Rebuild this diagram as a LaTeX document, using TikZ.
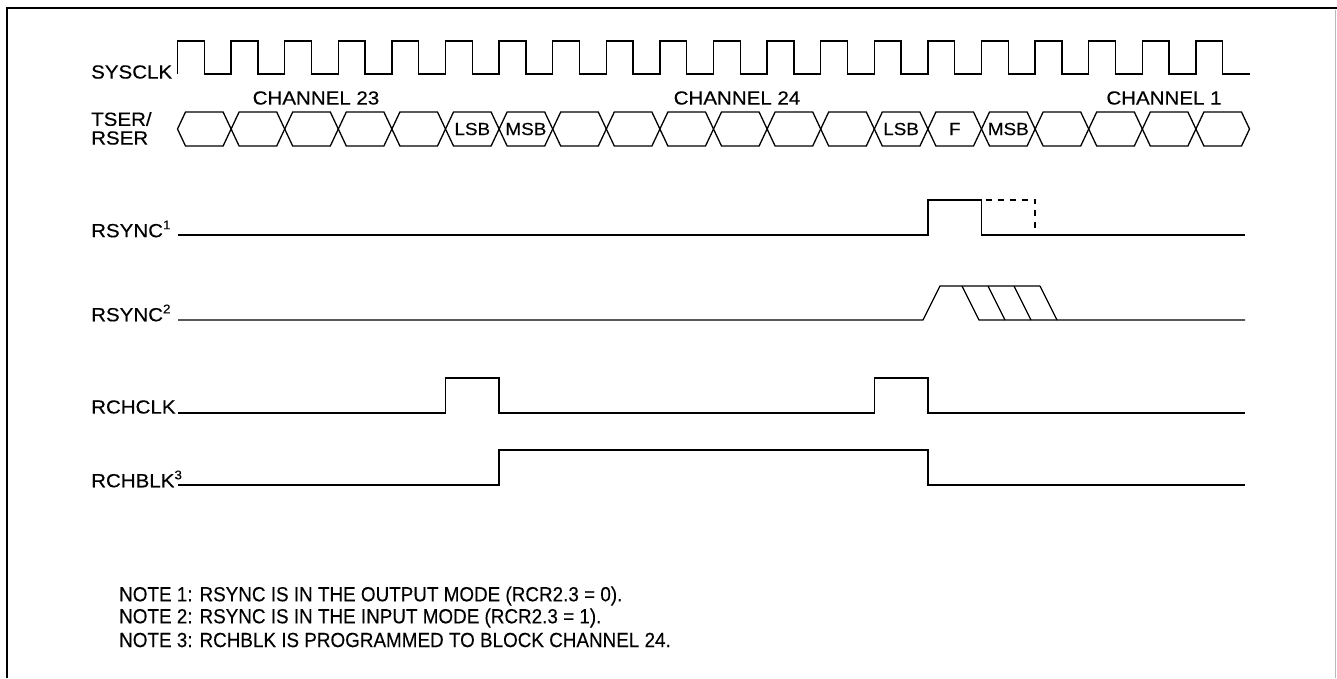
\documentclass[tikz,border=0pt]{standalone}
\usepackage{fontspec}
\setmainfont{Liberation Sans}
\newfontfamily\labfont[FakeStretch=1.08,FakeBold=0.3]{Liberation Sans}
\newfontfamily\notefont[FakeStretch=0.92,FakeBold=0.2]{Liberation Sans}
\newcommand\supnum[1]{\raisebox{0.42em}{\fontsize{12.5}{12.5}\selectfont #1}}
\begin{document}
\begin{tikzpicture}[x=1pt,y=-1pt,
  wave/.style={line width=1.3pt, line join=miter},
  dashwave/.style={line width=1.3pt, dash pattern=on 6pt off 6pt},
  lab/.style={anchor=west, inner sep=0pt, font=\labfont\fontsize{19}{21}\selectfont},
  hexlab/.style={inner sep=0pt, font=\labfont\fontsize{17.5}{19}\selectfont},
  chlab/.style={inner sep=0pt, font=\labfont\fontsize{19}{21}\selectfont},
  note/.style={anchor=west, inner sep=0pt, font=\notefont\fontsize{20.5}{22}\selectfont},
  frame/.style={line width=2.6pt}]
\useasboundingbox (0,0) rectangle (1337,678);
\def\xo{177.5}\def\p{53.6}
% levels
\def\ckh{41}\def\ckl{74}
\def\bt{112}\def\bm{129}\def\bb{146}
% frame
\coordinate (ftl) at (7,8);
\coordinate (ftr) at (1337,8);
\coordinate (fbl) at (7,678);
\draw[frame] (ftr) -- (ftl) -- (fbl);
\coordinate (frt) at (1335.5,10);
\coordinate (frb) at (1335.5,678);
\draw[gray!55, line width=0.8pt] (frt) -- (frb);
% labels
\node[lab] (sysclk) at (91,72) {SYSCLK};
\node[lab] (tser) at (91,119) {TSER/};
\node[lab] (rser) at (91,138) {RSER};
\node[lab] (rsync1) at (91,229) {RSYNC\supnum{1}};
\node[lab] (rsync2) at (91,313) {RSYNC\supnum{2}};
\node[lab] (rchclk) at (91,407) {RCHCLK};
\node[lab] (rchblk) at (91,479) {RCHBLK\supnum{3}};
% channel labels
\node[chlab] (ch23) at (316,98) {CHANNEL 23};
\node[chlab] (ch24) at (737,98) {CHANNEL 24};
\node[chlab] (ch1) at (1164,98) {CHANNEL 1};
% SYSCLK
\draw[wave] (\xo,\ckl) \foreach \k in {0,...,19} {
  -- ({\xo+\k*\p},\ckh) -- ({\xo+\k*\p+\p/2},\ckh) -- ({\xo+\k*\p+\p/2},\ckl) -- ({\xo+(\k+1)*\p},\ckl) };
% bus
\foreach \k in {0,...,19} {
  \draw[wave] ({\xo+\k*\p},\bm) -- ({\xo+\k*\p+8},\bt) -- ({\xo+(\k+1)*\p-8},\bt)
    -- ({\xo+(\k+1)*\p},\bm) -- ({\xo+(\k+1)*\p-8},\bb) -- ({\xo+\k*\p+8},\bb) -- cycle;
}
\node[hexlab] (lsb1) at ({\xo+5.5*\p},\bm) {LSB};
\node[hexlab] (msb1) at ({\xo+6.5*\p},\bm) {MSB};
\node[hexlab] (lsb2) at ({\xo+13.5*\p},\bm) {LSB};
\node[hexlab] (fbit) at ({\xo+14.5*\p},\bm) {F};
\node[hexlab] (msb2) at ({\xo+15.5*\p},\bm) {MSB};
% RSYNC1
\draw[wave] (178,235) -- ({\xo+14*\p},235) -- ({\xo+14*\p},200) -- ({\xo+15*\p},200)
  -- ({\xo+15*\p},235) -- (1245,235);
\draw[dashwave] ({\xo+15*\p+4},200) -- ({\xo+16*\p},200) -- ({\xo+16*\p},235);
% RSYNC2
\draw[wave] (178,320) -- (923,320) -- (940,286) -- (1040,286);
\draw[wave] (1245,320) -- (979,320) -- (962,286);
\draw[wave] (988,286) -- (1005,320);
\draw[wave] (1014,286) -- (1031,320);
\draw[wave] (1040,286) -- (1057,320);
% RCHCLK
\draw[wave] (178,413) -- ({\xo+5*\p},413) -- ({\xo+5*\p},378) -- ({\xo+6*\p},378) -- ({\xo+6*\p},413)
  -- ({\xo+13*\p},413) -- ({\xo+13*\p},378) -- ({\xo+14*\p},378) -- ({\xo+14*\p},413) -- (1245,413);
% RCHBLK
\draw[wave] (178,485) -- ({\xo+6*\p},485) -- ({\xo+6*\p},450) -- ({\xo+14*\p},450) -- ({\xo+14*\p},485) -- (1245,485);
% notes
\node[note] (n1) at (119,596) {NOTE 1: RSYNC IS IN THE OUTPUT MODE (RCR2.3 = 0).};
\node[note] (n2) at (119,618) {NOTE 2: RSYNC IS IN THE INPUT MODE (RCR2.3 = 1).};
\node[note] (n3) at (119,640) {NOTE 3: RCHBLK IS PROGRAMMED TO BLOCK CHANNEL 24.};
\end{tikzpicture}
\end{document}
